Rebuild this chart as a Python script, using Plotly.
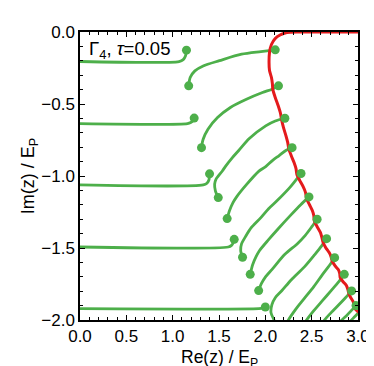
import plotly.graph_objects as go

# Horizontal branches (Re, Im) ending with a dot
h1_x = [0.0, 1.069, 1.114, 1.139, 1.149]
h1_y = [-0.205, -0.205, -0.192, -0.165, -0.126]
h2_x = [0.0, 1.16, 1.195, 1.22, 1.232]
h2_y = [-0.636, -0.636, -0.628, -0.615, -0.598]
h3_x = [0.0, 1.33, 1.37, 1.39, 1.398]
h3_y = [-1.062, -1.062, -1.05, -1.03, -0.985]
h4_x = [0.0, 1.60, 1.635, 1.655, 1.664]
h4_y = [-1.493, -1.493, -1.482, -1.462, -1.440]
h5_x = [0.0, 1.93, 1.975, 2.0]
h5_y = [-1.921, -1.921, -1.917, -1.910]

# Arcs with dots at both ends
a1_x = [1.173, 1.189, 1.240, 1.329, 1.505, 1.744, 1.952, 2.107]
a1_y = [-0.374, -0.316, -0.270, -0.236, -0.199, -0.154, -0.136, -0.124]
a2_x = [1.311, 1.329, 1.381, 1.484, 1.623, 1.796, 1.969, 2.073, 2.142]
a2_y = [-0.803, -0.745, -0.675, -0.594, -0.524, -0.467, -0.420, -0.397, -0.374]
a3_x = [1.492, 1.461, 1.453, 1.467, 1.536, 1.568, 1.640, 1.713, 1.827, 2.004, 2.107, 2.211]
a3_y = [-1.150, -1.104, -1.057, -1.023, -0.965, -0.935, -0.876, -0.823, -0.740, -0.652, -0.618, -0.599]
a4_x = [1.588, 1.614, 1.651, 1.692, 1.796, 1.931, 2.004, 2.076, 2.149, 2.221, 2.289]
a4_y = [-1.296, -1.240, -1.185, -1.143, -1.060, -0.966, -0.935, -0.893, -0.858, -0.823, -0.803]
a5_x = [1.754, 1.734, 1.744, 1.786, 1.848, 1.952, 2.035, 2.128, 2.263, 2.325, 2.385]
a5_y = [-1.564, -1.518, -1.470, -1.421, -1.359, -1.289, -1.227, -1.171, -1.081, -1.032, -0.983]
a6_x = [1.837, 1.863, 1.900, 1.936, 2.035, 2.139, 2.279, 2.382, 2.471]
a6_y = [-1.683, -1.616, -1.560, -1.519, -1.442, -1.366, -1.268, -1.199, -1.145]
a7_x = [1.928, 1.957, 2.004, 2.073, 2.211, 2.346, 2.429, 2.502, 2.559]
a7_y = [-1.796, -1.748, -1.699, -1.648, -1.544, -1.470, -1.414, -1.352, -1.300]

# Arcs entering from below, dot at upper end only
b8_x = [2.11, 2.097, 2.061, 2.071, 2.107, 2.177, 2.281, 2.419, 2.533, 2.606, 2.661]
b8_y = [-2.04, -2.005, -1.949, -1.894, -1.845, -1.797, -1.720, -1.633, -1.546, -1.487, -1.435]
b9_x = [2.23, 2.245, 2.325, 2.419, 2.523, 2.616, 2.689, 2.748]
b9_y = [-2.03, -2.005, -1.928, -1.852, -1.768, -1.685, -1.623, -1.567]
b10_x = [2.42, 2.440, 2.523, 2.616, 2.710, 2.793, 2.852]
b10_y = [-2.03, -2.005, -1.935, -1.866, -1.796, -1.734, -1.683]
b11_x = [2.61, 2.632, 2.710, 2.793, 2.865, 2.931]
b11_y = [-2.03, -2.005, -1.949, -1.894, -1.845, -1.798]
b12_x = [2.79, 2.818, 2.876, 2.927, 2.979]
b12_y = [-2.03, -2.005, -1.970, -1.935, -1.900]
b13_x = [2.89, 2.922, 2.969, 3.03]
b13_y = [-2.03, -2.005, -1.974, -1.93]

# Red boundary curve
red_x = [3.05, 2.367, 2.232, 2.159, 2.107, 2.066, 2.045, 2.040, 2.045, 2.066, 2.076, 2.081,
         2.107, 2.138, 2.164, 2.175, 2.196, 2.222, 2.242, 2.253, 2.279, 2.310, 2.331, 2.341,
         2.372, 2.408, 2.434, 2.445, 2.476, 2.507, 2.523, 2.528, 2.559, 2.595, 2.611, 2.621,
         2.652, 2.689, 2.709, 2.720, 2.751, 2.787, 2.803, 2.808, 2.839, 2.876, 2.891, 2.902,
         2.922, 2.948, 2.959, 2.969, 3.000, 3.031]
red_y = [0.0, 0.0, -0.0035, -0.021, -0.045, -0.087, -0.142, -0.212, -0.268, -0.316, -0.358, -0.400,
         -0.455, -0.511, -0.566, -0.608, -0.664, -0.719, -0.768, -0.810, -0.858, -0.907, -0.949, -0.990,
         -1.032, -1.074, -1.115, -1.157, -1.199, -1.240, -1.275, -1.310, -1.352, -1.393, -1.428, -1.456,
         -1.498, -1.532, -1.560, -1.588, -1.623, -1.650, -1.678, -1.706, -1.734, -1.762, -1.789, -1.817,
         -1.845, -1.873, -1.901, -1.921, -1.942, -1.956]

x_ticks = [0.0, 0.5, 1.0, 1.5, 2.0, 2.5, 3.0]
y_ticks = [0.0, -0.5, -1.0, -1.5, -2.0]

GREEN = "#4daf4a"
RED = "#e41a1c"
FONT = "Liberation Sans, Arial, sans-serif"

h_curves = [(h1_x, h1_y), (h2_x, h2_y), (h3_x, h3_y), (h4_x, h4_y), (h5_x, h5_y)]
a_curves = [(a1_x, a1_y), (a2_x, a2_y), (a3_x, a3_y), (a4_x, a4_y),
            (a5_x, a5_y), (a6_x, a6_y), (a7_x, a7_y)]
b_curves = [(b8_x, b8_y), (b9_x, b9_y), (b10_x, b10_y), (b11_x, b11_y), (b12_x, b12_y)]
open_curves = [(b13_x, b13_y)]

fig = go.Figure()
for cx, cy in h_curves + a_curves + b_curves + open_curves:
    fig.add_trace(go.Scatter(x=cx, y=cy, mode="lines",
                             line=dict(color=GREEN, width=2.8, shape="spline", smoothing=0.8),
                             hoverinfo="skip", showlegend=False))

fig.add_trace(go.Scatter(x=red_x, y=red_y, mode="lines",
                         line=dict(color=RED, width=3, shape="spline", smoothing=0.6),
                         hoverinfo="skip", showlegend=False))

dot_x, dot_y = [], []
for cx, cy in h_curves + b_curves:
    dot_x.append(cx[-1]); dot_y.append(cy[-1])
for cx, cy in a_curves:
    dot_x += [cx[0], cx[-1]]; dot_y += [cy[0], cy[-1]]
fig.add_trace(go.Scatter(x=dot_x, y=dot_y, mode="markers",
                         marker=dict(color=GREEN, size=9, line=dict(width=0)),
                         hoverinfo="skip", showlegend=False))

axis_common = dict(showgrid=False, zeroline=False, showline=True, linecolor="black",
                   linewidth=1.5, mirror="allticks", ticks="inside", ticklen=5,
                   tickwidth=1.2, tickcolor="black", tickformat=".1f",
                   tickfont=dict(family=FONT, size=17, color="black"),
                   minor=dict(ticks="inside", ticklen=3, tickwidth=1, tickcolor="black"))

fig.update_xaxes(range=[0, 3], tickvals=x_ticks, minor_dtick=0.1, **axis_common)
fig.update_yaxes(range=[-2, 0], tickvals=y_ticks, minor_dtick=0.1,
                 title=dict(text="Im(z) / E<sub>P</sub>", font=dict(family=FONT, size=18, color="black"),
                            standoff=2),
                 **axis_common)

# x-axis title placed as annotation so the subscript stays inside the figure
fig.add_annotation(x=0.5, y=0, xref="paper", yref="paper", xanchor="center", yanchor="middle",
                   yshift=-38, text="Re(z) / E<sub>P</sub>", showarrow=False, borderpad=0,
                   font=dict(family=FONT, size=17.5, color="black"))

fig.add_annotation(x=0.08, y=-0.128, xref="x", yref="y", xanchor="left", yanchor="middle",
                   text="Γ<sub>4</sub>, <i>τ</i>=0.05", showarrow=False,
                   font=dict(family=FONT, size=18.5, color="black"))

fig.update_layout(width=374, height=366, margin=dict(l=72, r=12, t=24, b=54),
                  paper_bgcolor="white", plot_bgcolor="white")

fig.write_html("out.html")
